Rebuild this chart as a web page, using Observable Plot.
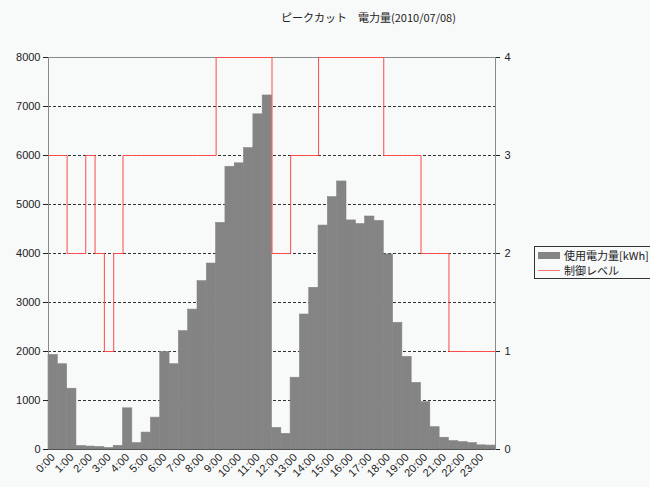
<!DOCTYPE html>
<html>
<head>
<meta charset="utf-8">
<script src="https://cdn.jsdelivr.net/npm/d3@7"></script>
<script src="https://cdn.jsdelivr.net/npm/@observablehq/plot@0.6"></script>
<style>
  html, body { margin: 0; padding: 0; background: #f8f9f9; }
  #wrap { position: relative; width: 650px; height: 487px; overflow: hidden; background: #f8f9f9; }
  #title { position: absolute; left: 281px; top: 9px; font: 11px "Noto Sans CJK JP", sans-serif; color: #222; white-space: nowrap; }
  #legend { position: absolute; left: 534px; top: 246px; width: 130px; height: 31px; border: 1px solid #333; background: #f8f9f9; font: 11px "Noto Sans CJK JP", sans-serif; color: #222; }
  .row { position: absolute; left: 3px; height: 14px; display: flex; align-items: center; white-space: nowrap; }
  .sw { width: 22px; margin-right: 4px; }
</style>
</head>
<body>
<div id="wrap">
  <div id="chart"></div>
  <div id="title">ピークカット　電力量(2010/07/08)</div>
  <div id="legend">
    <div class="row" style="top:1px"><div class="sw" style="height:7px;background:#848484"></div><span>使用電力量[kWh]</span></div>
    <div class="row" style="top:16px"><div class="sw" style="height:1px;background:#ff7070"></div><span>制御レベル</span></div>
  </div>
</div>
<script>
const times = ["0:00","0:30","1:00","1:30","2:00","2:30","3:00","3:30","4:00","4:30","5:00","5:30",
  "6:00","6:30","7:00","7:30","8:00","8:30","9:00","9:30","10:00","10:30","11:00","11:30",
  "12:00","12:30","13:00","13:30","14:00","14:30","15:00","15:30","16:00","16:30","17:00","17:30",
  "18:00","18:30","19:00","19:30","20:00","20:30","21:00","21:30","22:00","22:30","23:00","23:30"];
const usage = [1930,1740,1240,70,60,50,30,75,840,130,345,650,
  1990,1740,2415,2855,3435,3795,4625,5770,5840,6150,6840,7225,
  440,320,1465,2755,3300,4570,5150,5470,4675,4600,4755,4665,
  3980,2585,1890,1360,965,455,240,170,150,130,85,80];
const level = [3,3,2,2,3,2,1,2,3,3,3,3,
  3,3,3,3,3,3,4,4,4,4,4,4,
  2,2,3,3,3,4,4,4,4,4,4,4,
  3,3,3,3,2,2,2,1,1,1,1,1];
const yTicks = [0,1000,2000,3000,4000,5000,6000,7000,8000];
const levelTicks = [0,1,2,3,4];

const LEVEL_UNIT = 2000; // right axis 0..4 maps onto left 0..8000
const bars = times.map((t, i) => ({i, t, v: usage[i]}));
const steps = level.map((l, i) => ({i, l}));
steps.push({i: times.length, l: level[level.length - 1]});
const labelIdx = d3.range(0, times.length, 2);

const chart = Plot.plot({
  width: 650,
  height: 487,
  marginLeft: 48,
  marginRight: 155,
  marginTop: 57,
  marginBottom: 38,
  style: {background: "#f8f9f9", fontSize: "11px", fontFamily: "'Liberation Sans', Arial, sans-serif", color: "#222"},
  x: {domain: [0, times.length]},
  y: {domain: [0, 8000]},
  marks: [
    Plot.ruleY(yTicks.filter(d => d > 0 && d < 8000), {stroke: "#333", strokeDasharray: "3,2", strokeWidth: 1}),
    Plot.rectY(bars, {x: "i", interval: 1, y: "v", fill: "#848484", stroke: "#848484", strokeWidth: 0.6, inset: 0}),
    Plot.frame({stroke: "#8a8a8a"}),
    Plot.ruleY([0], {stroke: "#555"}),
    Plot.line(steps, {x: "i", y: d => d.l * LEVEL_UNIT, curve: "step-after", stroke: "#ff4a4a", strokeWidth: 1}),
    Plot.axisY({ticks: yTicks, tickFormat: d => String(d), tickSize: 5, tickPadding: 3, label: null}),
    Plot.axisY({anchor: "right", ticks: levelTicks.map(v => v * LEVEL_UNIT), tickFormat: d => String(d / LEVEL_UNIT), tickSize: 4, tickPadding: 5, label: null}),
    Plot.axisX({ticks: labelIdx.map(i => i + 0.5), tickFormat: d => times[Math.round(d - 0.5)], tickRotate: -45, tickSize: 0, tickPadding: 6, label: null})
  ]
});
document.getElementById("chart").appendChild(chart);
</script>
</body>
</html>
